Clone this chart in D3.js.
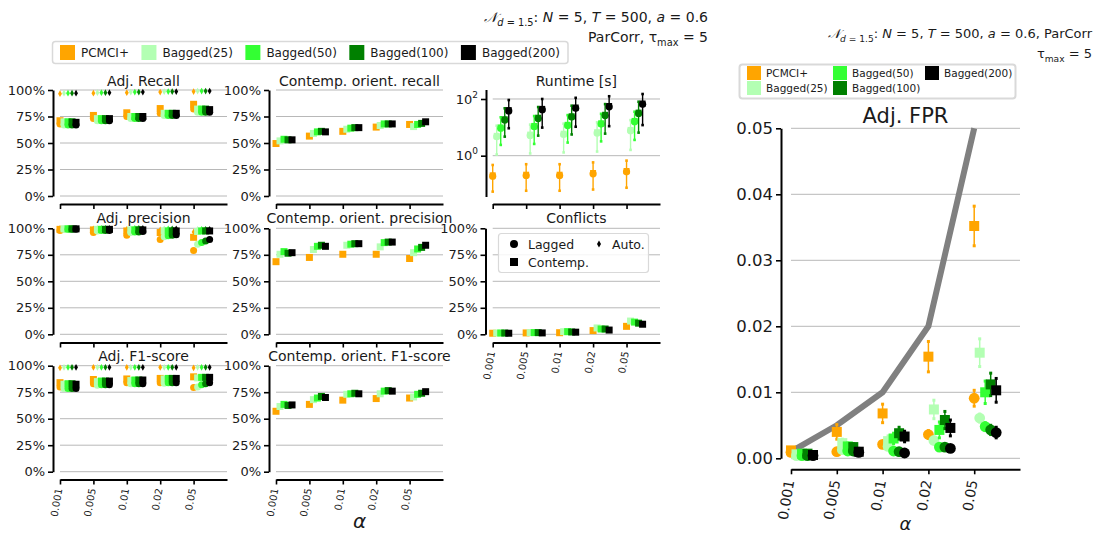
<!DOCTYPE html>
<html>
<head>
<meta charset="utf-8">
<script src="https://cdn.jsdelivr.net/npm/d3@7"></script>
<style>
  body { margin: 0; background: #fff; }
  svg text { font-family: "DejaVu Sans", sans-serif; fill: #1a1a1a; }
</style>
</head>
<body>
<svg id="fig" width="1099" height="534"></svg>
<script>
// ---- categories ----
const alphaLabels = ["0.001", "0.005", "0.01", "0.02", "0.05"];
const alphaLevels = [0.001, 0.005, 0.01, 0.02, 0.05];
const methods = ["PCMCI+", "Bagged(25)", "Bagged(50)", "Bagged(100)", "Bagged(200)"];
const methodColors = ["#ffa500", "#b3ffb3", "#33ff33", "#008000", "#000000"];

// ---- tick values ----
const percentTicks = [0, 25, 50, 75, 100];
const runtimeTicks = [1, 100];
const fprTicks = [0, 0.01, 0.02, 0.03, 0.04, 0.05];

// ---- series values, rows = methods, columns = alpha levels ----
const adjRecallLagged = [
  [68, 73, 75, 78, 82],
  [67, 71, 73, 76, 79],
  [67, 71, 73, 76, 79],
  [67, 71, 73, 76, 79],
  [67, 71, 73, 76, 79]
];
const adjRecallContemp = [
  [71, 76, 78.5, 82.5, 86.5],
  [70, 73, 75, 78, 82],
  [70, 73, 75, 78, 82],
  [70, 73, 75, 78, 82],
  [69.5, 73, 75, 78, 81.5]
];
const adjRecallAuto = [
  [96.5, 97, 97.5, 98, 98.5],
  [97, 97.5, 98, 98.5, 99],
  [97, 97.5, 98, 98.5, 99],
  [97, 97.5, 98, 98.5, 99],
  [97, 97.5, 98, 98.5, 99]
];
const orientRecall = [
  [49.5, 56.5, 61, 65, 67.5],
  [52, 59, 63, 66.5, 65.5],
  [53.5, 60.5, 64, 68, 67.5],
  [53, 61, 64.5, 68, 68.5],
  [53, 60.5, 64.5, 68, 70]
];
const runtimeMean = [
  [0.19, 0.20, 0.20, 0.23, 0.27],
  [4.7, 5.2, 5.6, 6.3, 7.6],
  [9.3, 10.5, 11.5, 13, 15.8],
  [18, 20.5, 23, 26, 31],
  [38, 42, 47, 53, 65]
];
const runtimeLow = [
  [0.054, 0.058, 0.058, 0.064, 0.074],
  [1.1, 1.2, 1.3, 1.4, 1.6],
  [2.4, 2.6, 2.9, 3.2, 3.6],
  [4.7, 5.1, 5.6, 6.0, 6.5],
  [9.3, 9.8, 10.5, 11, 12]
];
const runtimeHigh = [
  [0.47, 0.5, 0.5, 0.58, 0.67],
  [11.4, 12.5, 13.5, 15, 18],
  [22.6, 25, 27, 30, 35.6],
  [47, 52, 58, 66, 80],
  [92, 100, 110, 125, 150]
];
const adjPrecisionLagged = [
  [98, 96, 93.5, 89.5, 79],
  [99, 97.5, 96, 92, 85],
  [99, 98, 96.5, 93, 86.5],
  [99, 98, 96.5, 93.5, 88],
  [99, 98, 97, 94, 89.5]
];
const adjPrecisionContemp = [
  [99, 98.5, 97.5, 96, 91.5],
  [99.5, 99, 98.5, 97.5, 97],
  [99.5, 99, 98.5, 97.5, 97.5],
  [99.5, 99, 98.5, 97.5, 97.5],
  [99.5, 99, 98.5, 97.5, 97.5]
];
const adjPrecisionAuto = [
  [100, 99.5, 99, 98.5, 96.5],
  [100, 100, 100, 99.5, 99],
  [100, 100, 100, 99.5, 99],
  [100, 100, 100, 99.5, 99],
  [100, 100, 100, 99.5, 99]
];
const orientPrecision = [
  [68.5, 72.5, 75.5, 75.5, 71.5],
  [75.5, 80, 84, 82.5, 77],
  [78, 83, 85, 86.5, 80.5],
  [76.5, 84, 85.5, 87, 82],
  [77, 83, 85.5, 87, 84]
];
const conflictsContemp = [
  [1, 1.3, 1.5, 3.5, 7.5],
  [1.2, 1.6, 2.5, 6, 12.5],
  [1.2, 1.6, 2.5, 5, 11.5],
  [1.2, 1.6, 2.2, 5, 10.5],
  [1, 1.3, 2, 4, 9.5]
];
const adjF1Lagged = [
  [80, 83, 84, 84, 79.5],
  [78.5, 81.5, 83, 83.5, 80],
  [78.5, 82, 83, 84, 82],
  [78.5, 82, 83, 84, 83],
  [78.5, 82, 83, 84, 84]
];
const adjF1Contemp = [
  [84, 87, 87.5, 88, 89.5],
  [82.5, 85, 86, 87.5, 88.5],
  [83, 85.5, 86.5, 88, 89],
  [83, 85.5, 86.5, 88, 89],
  [82.5, 85.5, 86.5, 88, 89]
];
const adjF1Auto = [
  [98, 98.5, 98.5, 98.5, 98],
  [98.5, 98.5, 98.5, 98.5, 98.5],
  [98.5, 98.5, 98.5, 98.5, 98.5],
  [98.5, 98.5, 98.5, 98.5, 98.5],
  [98.5, 98.5, 98.5, 98.5, 98.5]
];
const orientF1 = [
  [57, 63.5, 67.5, 69, 69.5],
  [61.5, 68, 73, 73.5, 70.5],
  [63.5, 69.5, 73.5, 76, 73],
  [62.5, 71, 74, 76.5, 74],
  [63, 70, 73.5, 76, 75.5]
];
const fprContemp = [
  [0.0012, 0.0040, 0.0068, 0.0154, 0.0352],
  [0.0006, 0.0023, 0.0026, 0.0074, 0.0160],
  [0.0007, 0.0018, 0.0030, 0.0043, 0.0100],
  [0.0007, 0.0017, 0.0038, 0.0058, 0.0112],
  [0.0005, 0.0010, 0.0033, 0.0046, 0.0103]
];
const fprContempErr = [
  [0.0004, 0.0011, 0.0014, 0.0023, 0.0030],
  [0.0003, 0.0006, 0.0008, 0.0014, 0.0021],
  [0.0003, 0.0005, 0.0008, 0.0012, 0.0017],
  [0.0003, 0.0005, 0.0009, 0.0013, 0.0017],
  [0.0003, 0.0005, 0.0008, 0.0012, 0.0018]
];
const fprLagged = [
  [0.0009, 0.0010, 0.0021, 0.0036, 0.0091],
  [0.0004, 0.0013, 0.0018, 0.0027, 0.0061],
  [0.0004, 0.0011, 0.0011, 0.0017, 0.0048],
  [0.0004, 0.0011, 0.0010, 0.0017, 0.0043],
  [0.0004, 0.0009, 0.0008, 0.0015, 0.0039]
];
const fprLaggedErr = [
  [0.0003, 0.0004, 0.0004, 0.0006, 0.0012],
  [0.0002, 0.0003, 0.0003, 0.0004, 0.0006],
  [0.0002, 0.0003, 0.0003, 0.0004, 0.0006],
  [0.0002, 0.0003, 0.0003, 0.0004, 0.0007],
  [0.0002, 0.0003, 0.0003, 0.0004, 0.0008]
];

// ---- drawing ----
const svg = d3.select("#fig");
svg.append("rect").attr("width", 1099).attr("height", 534).attr("fill", "#fff");

const groupStep = 0.12;           // horizontal shift between methods inside one alpha group
const alphaIdx = d3.range(alphaLabels.length);

// column / row frames of the small-multiple grid
const cols = [
  { x0: 60, x1: 227, spine: 53 },
  { x0: 276, x1: 443, spine: 269 },
  { x0: 492.7, x1: 660, spine: 485.5 }
];
const rows = [
  { top: 90, bot: 196, axis: 204, title: 85.5 },
  { top: 228.3, bot: 334.3, axis: 342.5, title: 222.5 },
  { top: 365.7, bot: 471.7, axis: 479.5, title: 361 }
];

function styleAxis(sel, fontSize) {
  sel.select(".domain").attr("stroke", "#000").attr("stroke-width", 2);
  sel.selectAll(".tick line").attr("stroke", "#000").attr("stroke-width", 1.6);
  sel.selectAll(".tick text").attr("font-size", fontSize).attr("fill", "#1a1a1a")
     .attr("font-family", "DejaVu Sans");
}

function rotateLabels(sel, dist) {
  sel.selectAll(".tick text")
    .attr("text-anchor", "end")
    .attr("x", -dist).attr("y", 0).attr("dy", "0.35em")
    .attr("transform", "rotate(-80)");
}

function makePanel(o) {
  const g = svg.append("g");
  const x = d3.scaleLinear().domain([0, 5]).range([o.x0, o.x1]);
  const y = o.y;
  // grid
  g.append("g").selectAll("line").data(o.yTicks).join("line")
    .attr("x1", o.x0).attr("x2", o.x1)
    .attr("y1", d => y(d)).attr("y2", d => y(d))
    .attr("stroke", "#b8b8b8").attr("stroke-width", 1);
  // y axis
  const ya = g.append("g").attr("transform", `translate(${o.spine},0)`)
    .call(d3.axisLeft(y).tickValues(o.yTicks).tickFormat(o.yFmt)
      .tickSize(5).tickSizeOuter(0).tickPadding(3));
  styleAxis(ya, o.tickFont);
  // x axis
  const xa = g.append("g").attr("transform", `translate(0,${o.axisY})`)
    .call(d3.axisBottom(x).tickValues(alphaIdx)
      .tickFormat(i => o.showX ? alphaLabels[i] : "")
      .tickSize(5).tickSizeOuter(0));
  styleAxis(xa, o.xFont);
  if (o.showX) rotateLabels(xa, o.xDist);
  // title
  g.append("text").attr("x", (o.x0 + o.x1) / 2).attr("y", o.titleY)
    .attr("text-anchor", "middle").attr("font-size", o.titleFont).text(o.title);
  return { g, x, y, ya };
}

const sqPath = s => `M${-s / 2},${-s / 2}h${s}v${s}h${-s}Z`;
const autoPath = s => d3.symbol(d3.symbolDiamond, s)();

function drawMethodSeries(p, lagged, contemp, auto, mk) {
  methods.forEach((m, mi) => {
    alphaIdx.forEach(j => {
      const cx = p.x(j + mi * groupStep);
      if (lagged) p.g.append("circle").attr("cx", cx).attr("cy", p.y(lagged[mi][j]))
        .attr("r", mk.circle / 2).attr("fill", methodColors[mi]);
      if (contemp) p.g.append("path").attr("d", sqPath(mk.square))
        .attr("transform", `translate(${cx},${p.y(contemp[mi][j])})`).attr("fill", methodColors[mi]);
      if (auto) p.g.append("path").attr("d", autoPath(mk.auto))
        .attr("transform", `translate(${cx},${p.y(auto[mi][j])})`).attr("fill", methodColors[mi]);
    });
  });
}

function errorBar(g, cx, y0, y1, color, cap, w) {
  g.append("line").attr("x1", cx).attr("x2", cx).attr("y1", y0).attr("y2", y1)
    .attr("stroke", color).attr("stroke-width", w);
  [y0, y1].forEach(yy => g.append("rect")
    .attr("x", cx - cap / 2).attr("y", yy - cap / 2).attr("width", cap).attr("height", cap)
    .attr("fill", color));
}

const pctFmt = d => d + "%";
const smallMk = { circle: 7, square: 7, auto: 13 };

const percentPanels = [
  { title: "Adj. Recall", c: 0, r: 0, lagged: adjRecallLagged, contemp: adjRecallContemp, auto: adjRecallAuto },
  { title: "Contemp. orient. recall", c: 1, r: 0, contemp: orientRecall },
  { title: "Adj. precision", c: 0, r: 1, lagged: adjPrecisionLagged, contemp: adjPrecisionContemp, auto: adjPrecisionAuto },
  { title: "Contemp. orient. precision", c: 1, r: 1, contemp: orientPrecision },
  { title: "Conflicts", c: 2, r: 1, contemp: conflictsContemp, showX: true },
  { title: "Adj. F1-score", c: 0, r: 2, lagged: adjF1Lagged, contemp: adjF1Contemp, auto: adjF1Auto, showX: true },
  { title: "Contemp. orient. F1-score", c: 1, r: 2, contemp: orientF1, showX: true }
];

percentPanels.forEach(spec => {
  const C = cols[spec.c], R = rows[spec.r];
  const p = makePanel({
    x0: C.x0, x1: C.x1, spine: C.spine, axisY: R.axis, titleY: R.title,
    y: d3.scaleLinear().domain([0, 100]).range([R.bot, R.top]),
    yTicks: percentTicks, yFmt: pctFmt, tickFont: 13, xFont: 10, xDist: 9,
    showX: !!spec.showX, title: spec.title, titleFont: 14
  });
  drawMethodSeries(p, spec.lagged, spec.contemp, spec.auto, smallMk);
});

// Runtime panel (log scale)
{
  const C = cols[2], R = rows[0];
  const y = d3.scaleLog().domain([Math.pow(10, -1.44), Math.pow(10, 2.335)]).range([196.5, 89.5]);
  const p = makePanel({
    x0: C.x0, x1: C.x1, spine: C.spine + 0.5, axisY: R.axis, titleY: R.title,
    y, yTicks: runtimeTicks, yFmt: d => String(d), tickFont: 13, xFont: 10, xDist: 9,
    showX: false, title: "Runtime [s]", titleFont: 14
  });
  // 10^k tick labels
  p.ya.selectAll(".tick text").each(function (d) {
    const t = d3.select(this);
    t.text(null);
    t.append("tspan").text("10");
    t.append("tspan").attr("dy", -6).attr("font-size", 9).text(Math.round(Math.log10(d)));
  });
  methods.forEach((m, mi) => {
    alphaIdx.forEach(j => {
      const cx = p.x(j + mi * groupStep);
      errorBar(p.g, cx, y(runtimeLow[mi][j]), y(runtimeHigh[mi][j]), methodColors[mi], 2.6, 1.4);
      p.g.append("circle").attr("cx", cx).attr("cy", y(runtimeMean[mi][j])).attr("r", 3.6)
        .attr("fill", methodColors[mi]);
      p.g.append("path").attr("d", sqPath(6))
        .attr("transform", `translate(${cx},${y(runtimeMean[mi][j]) - 0.8})`).attr("fill", methodColors[mi]);
    });
  });
}

// marker legend inside the Conflicts panel
{
  const g = svg.append("g");
  g.append("rect").attr("x", 498.5).attr("y", 233.5).attr("width", 150).attr("height", 39)
    .attr("rx", 3).attr("fill", "#fff").attr("fill-opacity", 0.85)
    .attr("stroke", "#d9d9d9").attr("stroke-width", 1.2);
  g.append("circle").attr("cx", 514).attr("cy", 244).attr("r", 4).attr("fill", "#000");
  g.append("text").attr("x", 528).attr("y", 248.5).attr("font-size", 12.5).text("Lagged");
  g.append("path").attr("d", autoPath(14)).attr("transform", "translate(599,244)").attr("fill", "#000");
  g.append("text").attr("x", 612).attr("y", 248.5).attr("font-size", 12.5).text("Auto.");
  g.append("path").attr("d", sqPath(8)).attr("transform", "translate(514,262)").attr("fill", "#000");
  g.append("text").attr("x", 528).attr("y", 266.5).attr("font-size", 12.5).text("Contemp.");
}

// x-axis label under the middle column
svg.append("text").attr("x", 359.5).attr("y", 528).attr("text-anchor", "middle")
  .attr("font-size", 20).attr("font-style", "italic").text("α");

// mathtext-like header line
function richLine(x, y, size, parts) {
  const t = svg.append("text").attr("x", x).attr("y", y).attr("text-anchor", "end")
    .attr("font-size", size);
  let shifted = 0;
  parts.forEach(p => {
    const s = t.append("tspan").text(p.t);
    const target = p.sub ? 4 : 0;
    if (target !== shifted) { s.attr("dy", target - shifted); shifted = target; }
    if (p.sub) s.attr("font-size", size * 0.7);
    if (p.it) s.attr("font-style", "italic");
    if (p.script) s.attr("font-family", "DejaVu Serif").attr("font-style", "italic");
  });
  return t;
}

const settingParts = [
  { t: "𝒩", script: true }, { t: "d", sub: true, it: true }, { t: " = 1.5", sub: true },
  { t: ": " }, { t: "N", it: true }, { t: " = 5, " }, { t: "T", it: true }, { t: " = 500, " },
  { t: "a", it: true }, { t: " = 0.6" }
];
richLine(708, 22, 14, settingParts);
richLine(708, 42, 14, [{ t: "ParCorr, τ" }, { t: "max", sub: true }, { t: " = 5" }]);

// method legend across the top
{
  const g = svg.append("g");
  const box = g.append("rect").attr("x", 52.5).attr("y", 41.5).attr("height", 22)
    .attr("rx", 3).attr("fill", "#fff").attr("stroke", "#d9d9d9").attr("stroke-width", 1.5);
  const texts = methods.map(m => g.append("text").attr("y", 57).attr("font-size", 12).text(m));
  const widths = texts.map(t => t.node().getComputedTextLength());
  const patch = 15, gap = 6, left = 60, right = 560;
  const spacing = (right - left - d3.sum(widths) - methods.length * (patch + gap)) / (methods.length - 1);
  let x = left;
  methods.forEach((m, i) => {
    g.append("rect").attr("x", x).attr("y", 45).attr("width", patch).attr("height", patch)
      .attr("fill", methodColors[i]);
    texts[i].attr("x", x + patch + gap);
    x += patch + gap + widths[i] + spacing;
  });
  box.attr("width", right + 8 - 52.5);
}

// ---- Adj. FPR panel ----
{
  const y = d3.scaleLinear().domain([0, 0.05]).range([458.3, 128.3]);
  const p = makePanel({
    x0: 791, x1: 1020, spine: 781, axisY: 469.3, titleY: 123,
    y, yTicks: fprTicks, yFmt: d3.format(".2f"), tickFont: 16.5, xFont: 14, xDist: 11,
    showX: true, title: "Adj. FPR", titleFont: 21
  });
  // nominal level alpha as reference line
  p.g.append("path")
    .datum(alphaIdx)
    .attr("d", d3.line().x(j => p.x(j)).y(j => y(alphaLevels[j])))
    .attr("fill", "none").attr("stroke", "#808080").attr("stroke-width", 6);
  methods.forEach((m, mi) => {
    alphaIdx.forEach(j => {
      const cx = p.x(j + mi * groupStep);
      const c = methodColors[mi];
      errorBar(p.g, cx, y(fprLagged[mi][j] - fprLaggedErr[mi][j]), y(fprLagged[mi][j] + fprLaggedErr[mi][j]), c, 3, 1.5);
      p.g.append("circle").attr("cx", cx).attr("cy", y(fprLagged[mi][j])).attr("r", 5.4).attr("fill", c);
      errorBar(p.g, cx, y(fprContemp[mi][j] - fprContempErr[mi][j]), y(fprContemp[mi][j] + fprContempErr[mi][j]), c, 3, 1.5);
      p.g.append("path").attr("d", sqPath(10))
        .attr("transform", `translate(${cx},${y(fprContemp[mi][j])})`).attr("fill", c);
    });
  });
  svg.append("text").attr("x", 905.5).attr("y", 530).attr("text-anchor", "middle")
    .attr("font-size", 18).attr("font-style", "italic").text("α");

  richLine(1092, 38, 13, settingParts.concat([{ t: ", ParCorr" }]));
  richLine(1092, 58, 13, [{ t: "τ" }, { t: "max", sub: true }, { t: " = 5" }]);

  // legend in three columns
  const g = svg.append("g");
  g.append("rect").attr("x", 739.5).attr("y", 64.5).attr("width", 276).attr("height", 34)
    .attr("rx", 3).attr("fill", "#fff").attr("stroke", "#d9d9d9").attr("stroke-width", 2);
  const colXs = [747, 833, 925], rowYs = [66, 81];
  methods.forEach((m, i) => {
    const cx = colXs[Math.floor(i / 2)], ry = rowYs[i % 2];
    g.append("rect").attr("x", cx).attr("y", ry).attr("width", 14).attr("height", 14)
      .attr("fill", methodColors[i]);
    g.append("text").attr("x", cx + 19).attr("y", ry + 11).attr("font-size", 10.5).text(m);
  });
}
</script>
</body>
</html>
